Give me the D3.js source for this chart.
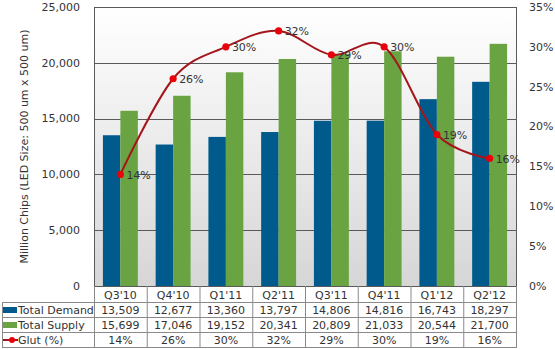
<!DOCTYPE html>
<html><head><meta charset="utf-8">
<script src="https://cdn.jsdelivr.net/npm/d3@7"></script>
<style>body{margin:0;background:#fff}svg{display:block}text{font-family:"DejaVu Sans",Verdana,sans-serif;}</style>
</head><body><svg id="c" width="555" height="349"></svg>
<script>
const categories = ["Q3'10","Q4'10","Q1'11","Q2'11","Q3'11","Q4'11","Q1'12","Q2'12"];
const demand = [13509,12677,13360,13797,14806,14816,16743,18297];
const supply = [15699,17046,19152,20341,20809,21033,20544,21700];
const glut = [14,26,30,32,29,30,19,16];
const leftTicks = [0,5000,10000,15000,20000,25000];
const rightTicks = [0,5,10,15,20,25,30,35];
const seriesNames = ["Total Demand","Total Supply","Glut (%)"];

const svg = d3.select("#c");
const L=94, R=516, T=7, B=286;
const cDemand="#005a8c", cSupply="#6aa442", cLine="#a3161b", cDot="#e8000b";

const defs = svg.append("defs");
const g = defs.append("linearGradient").attr("id","bg").attr("x1",0).attr("y1",0).attr("x2",0).attr("y2",1);
g.append("stop").attr("offset","0%").attr("stop-color","#ffffff");
g.append("stop").attr("offset","100%").attr("stop-color","#d6d6d6");
svg.append("rect").attr("x",L).attr("y",T).attr("width",R-L).attr("height",B-T).attr("fill","url(#bg)");

const x0 = d3.scaleBand().domain(categories).range([L,R]).padding(0);
const x1 = d3.scaleBand().domain(["d","s"]).range([0,x0.bandwidth()]).paddingInner(0).paddingOuter(0.51);
const y = d3.scaleLinear().domain([0,25000]).range([B,T]);
const y2 = d3.scaleLinear().domain([0,35]).range([B,T]);

// gridlines
svg.append("g").selectAll("line").data(leftTicks.filter(d=>d>0)).join("line")
  .attr("x1",L).attr("x2",R).attr("y1",d=>Math.round(y(d))+0.5).attr("y2",d=>Math.round(y(d))+0.5)
  .attr("stroke","#5a5a5a").attr("stroke-width",1);

// bars
const bars = svg.append("g");
categories.forEach((c,i)=>{
  bars.append("rect").attr("x",x0(c)+x1("d")).attr("y",y(demand[i])).attr("width",x1.bandwidth()).attr("height",B-y(demand[i])).attr("fill",cDemand);
  bars.append("rect").attr("x",x0(c)+x1("s")).attr("y",y(supply[i])).attr("width",x1.bandwidth()).attr("height",B-y(supply[i])).attr("fill",cSupply);
});

// axes frame
svg.append("line").attr("x1",L+0.5).attr("x2",L+0.5).attr("y1",T).attr("y2",B).attr("stroke","#5a5a5a");
svg.append("line").attr("x1",R+0.5).attr("x2",R+0.5).attr("y1",T).attr("y2",B).attr("stroke","#5a5a5a");
svg.append("line").attr("x1",L).attr("x2",R+1).attr("y1",B+0.5).attr("y2",B+0.5).attr("stroke","#5a5a5a");

// left axis labels
const fmt = d3.format(",");
svg.append("g").selectAll("text").data(leftTicks).join("text")
  .attr("x",80).attr("y",d=>y(d)).attr("dy","0.35em").attr("text-anchor","end")
  .attr("font-size",11).attr("fill","#333").text(d=>fmt(d));
// right axis labels
svg.append("g").selectAll("text").data(rightTicks).join("text")
  .attr("x",529).attr("y",d=>y2(d)).attr("dy","0.35em").attr("text-anchor","start")
  .attr("font-size",11).attr("fill","#333").text(d=>d+"%");
// y title
svg.append("text").attr("transform",`translate(28,${(T+B)/2}) rotate(-90)`).attr("text-anchor","middle")
  .attr("font-size",11).attr("fill","#333").text("Million Chips (LED Size: 500 um x 500 um)");

// line
const cx = c => x0(c)+x0.bandwidth()/2;
const line = d3.line().x((d,i)=>cx(categories[i])).y(d=>y2(d)).curve(d3.curveCardinal.tension(0));
svg.append("path").attr("d",line(glut)).attr("fill","none").attr("stroke",cLine).attr("stroke-width",2);
svg.append("g").selectAll("circle").data(glut).join("circle")
  .attr("cx",(d,i)=>cx(categories[i])).attr("cy",d=>y2(d)).attr("r",3.6).attr("fill",cDot);
svg.append("g").selectAll("text").data(glut).join("text")
  .attr("x",(d,i)=>cx(categories[i])+6).attr("y",d=>y2(d)).attr("dy","0.38em")
  .attr("font-size",11).attr("fill","#333").text(d=>d+"%");

// data table
const rowTop=[B,302,317,332], rowBot=347;
const tbl = svg.append("g");
const gc="#8a8a8a";
// horizontal lines
[302,317,332,347].forEach(yy=>{
  tbl.append("line").attr("x1",2).attr("x2",R+1).attr("y1",yy+0.5).attr("y2",yy+0.5).attr("stroke",gc);
});
// vertical lines
tbl.append("line").attr("x1",2.5).attr("x2",2.5).attr("y1",302).attr("y2",rowBot+1).attr("stroke",gc);
categories.forEach(c=>{
  tbl.append("line").attr("x1",x0(c)+0.5).attr("x2",x0(c)+0.5).attr("y1",B).attr("y2",rowBot+1).attr("stroke",gc);
});
tbl.append("line").attr("x1",R+0.5).attr("x2",R+0.5).attr("y1",B).attr("y2",rowBot+1).attr("stroke",gc);
// header
const rowMid = i => (rowTop[i]+ (i<3?rowTop[i+1]:rowBot))/2+1;
tbl.selectAll("text.h").data(categories).join("text").attr("class","h")
  .attr("x",d=>cx(d)).attr("y",rowMid(0)).attr("dy","0.35em").attr("text-anchor","middle")
  .attr("font-size",11).attr("fill","#333").text(d=>d);
const rows=[demand.map(fmt), supply.map(fmt), glut.map(d=>d+"%")];
rows.forEach((r,ri)=>{
  tbl.append("g").selectAll("text").data(r).join("text")
    .attr("x",(d,i)=>cx(categories[i])).attr("y",rowMid(ri+1)).attr("dy","0.35em").attr("text-anchor","middle")
    .attr("font-size",11).attr("fill","#333").text(d=>d);
  tbl.append("text").attr("x",18).attr("y",rowMid(ri+1)).attr("dy","0.35em")
    .attr("font-size",11).attr("fill","#333").text(seriesNames[ri]);
});
// legend keys
tbl.append("rect").attr("x",3).attr("y",rowMid(1)-3.5).attr("width",14).attr("height",6).attr("fill",cDemand);
tbl.append("rect").attr("x",3).attr("y",rowMid(2)-3.5).attr("width",14).attr("height",6).attr("fill",cSupply);
tbl.append("line").attr("x1",3).attr("x2",18).attr("y1",rowMid(3)-0.5).attr("y2",rowMid(3)-0.5).attr("stroke",cLine).attr("stroke-width",2);
tbl.append("circle").attr("cx",12).attr("cy",rowMid(3)-0.5).attr("r",3).attr("fill",cDot);
</script></body></html>
